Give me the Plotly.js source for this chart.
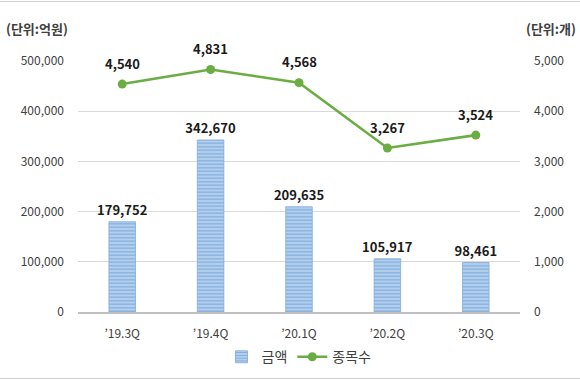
<!DOCTYPE html>
<html><head><meta charset="utf-8">
<script src="https://cdn.plot.ly/plotly-3.0.1.min.js"></script>
<style>html,body{margin:0;padding:0;background:#fff;}#c{width:580px;height:380px;position:relative;}
.bt{position:absolute;left:0;width:580px;height:1px;background:#d0d0d0;}</style>
</head><body>
<div id="c"></div>
<div class="bt" style="top:1px"></div>
<div class="bt" style="top:378px"></div>
<script>
const categories = ["\u201919.3Q","\u201919.4Q","\u201920.1Q","\u201920.2Q","\u201920.3Q"];
const amountValues = [179752, 342670, 209635, 105917, 98461];
const countValues = [4540, 4831, 4568, 3267, 3524];
const leftTicks = [0,100000,200000,300000,400000,500000];
const rightTicks = [0,1000,2000,3000,4000,5000];
const fmt = v => v.toLocaleString('en-US');
const F = '"Noto Sans CJK KR", "Noto Sans", sans-serif';

const bar = {
  type:'bar', name:'금액', x:categories, y:amountValues,
  width:0.3,
  marker:{color:'#a8c8ea', line:{color:'#7fa9d8', width:0.8},
    pattern:{shape:'-', fgcolor:'#78a6da', bgcolor:'#b4d0ee', size:3.5, solidity:0.3}},
  text:amountValues.map(fmt), textposition:'outside', cliponaxis:false, constraintext:'none',
  textfont:{family:F, size:13, color:'#1a1a1a', weight:'bold'},
  hoverinfo:'skip'
};
const line = {
  type:'scatter', mode:'lines+markers', name:'종목수', x:categories, y:countValues, yaxis:'y2',
  line:{color:'#6aad43', width:2.6}, marker:{color:'#6aad43', size:9},
  cliponaxis:false, hoverinfo:'skip'
};
const lineLabels = categories.map((c,i) => ({
  x:c, y:countValues[i], xref:'x', yref:'y2', yshift:21, showarrow:false,
  text:fmt(countValues[i]), font:{family:F, size:13, color:'#1a1a1a', weight:'bold'}
}));
const layout = {
  width:580, height:380,
  margin:{l:78, r:60, t:61, b:68, autoexpand:false},
  paper_bgcolor:'#fff', plot_bgcolor:'#fff',
  font:{family:F, size:12, color:'#595959'},
  showlegend:true,
  legend:{orientation:'h', x:0.5, xanchor:'center', y:-0.18, yanchor:'middle',
    font:{family:F, size:14, color:'#404040'}, itemwidth:30, traceorder:'normal'},
  xaxis:{type:'category', showgrid:false, showline:true, linecolor:'#bfbfbf', linewidth:1.5, automargin:false,
    ticks:'', ticklabelstandoff:10, tickfont:{family:F, size:12, color:'#404040'}, fixedrange:true},
  yaxis:{range:[0,500000], tickvals:leftTicks, ticktext:leftTicks.map(fmt), showgrid:true, automargin:false,
    gridcolor:'#d9d9d9', gridwidth:1, zeroline:false, showline:false, ticks:'', ticklabelstandoff:13,
    tickfont:{family:F, size:12, color:'#404040'}, fixedrange:true},
  yaxis2:{range:[0,5000], overlaying:'y', side:'right', tickvals:rightTicks, ticktext:rightTicks.map(fmt),
    showgrid:false, zeroline:false, showline:false, ticks:'', ticklabelstandoff:13, automargin:false,
    tickfont:{family:F, size:12, color:'#404040'}, fixedrange:true},
  annotations:[
    {text:'(단위:억원)', xref:'paper', yref:'paper', x:-0.168, xanchor:'left', y:1.13, yanchor:'middle',
     showarrow:false, font:{family:F, size:13, color:'#404040', weight:'bold'}},
    {text:'(단위:개)', xref:'paper', yref:'paper', x:1.131, xanchor:'right', y:1.13, yanchor:'middle',
     showarrow:false, font:{family:F, size:13, color:'#404040', weight:'bold'}}
  ].concat(lineLabels)
};
Plotly.newPlot('c', [bar, line], layout, {displayModeBar:false, staticPlot:true});
</script>
</body></html>
